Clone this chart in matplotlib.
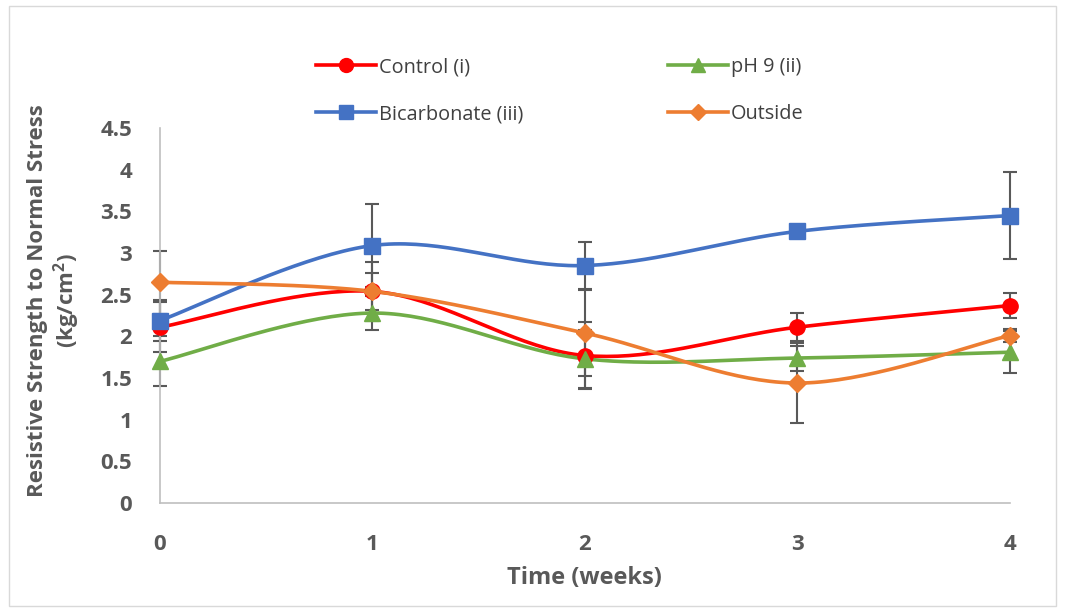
import numpy as np
import matplotlib.pyplot as plt
from matplotlib.lines import Line2D
from matplotlib.patches import Rectangle

plt.rcParams['font.family'] = ['Open Sans', 'DejaVu Sans']

# Data
weeks = [0, 1, 2, 3, 4]
control = [2.11, 2.54, 1.77, 2.11, 2.37]
control_err = [0.30, 0.22, 0.40, 0.17, 0.15]
ph9 = [1.70, 2.28, 1.73, 1.74, 1.81]
ph9_err = [0.30, 0.20, 0.35, 0.15, 0.25]
bicarb = [2.19, 3.09, 2.85, 3.26, 3.45]
bicarb_err = [0.25, 0.50, 0.28, 0.08, 0.52]
outside = [2.65, 2.54, 2.04, 1.44, 2.01]
outside_err = [0.38, 0.35, 0.52, 0.48, 0.08]

labels = ['Control (i)', 'pH 9 (ii)', 'Bicarbonate (iii)', 'Outside']
colors = ['#FF0000', '#70AD47', '#4472C4', '#ED7D31']
markers = ['o', '^', 's', 'D']
msizes = [11, 11, 11, 9]


def smooth(x, y, n=40):
    # Excel-style smoothed line (cubic Bezier through points)
    x = np.asarray(x, float)
    y = np.asarray(y, float)
    P = np.column_stack([x, y])
    out = []
    for i in range(len(P) - 1):
        p0 = P[max(i - 1, 0)]
        p1 = P[i]
        p2 = P[i + 1]
        p3 = P[min(i + 2, len(P) - 1)]
        c1 = p1 + (p2 - p0) / 6
        c2 = p2 - (p3 - p1) / 6
        t = np.linspace(0, 1, n)[:, None]
        seg = ((1 - t) ** 3) * p1 + 3 * ((1 - t) ** 2) * t * c1 + 3 * (1 - t) * t ** 2 * c2 + t ** 3 * p2
        out.append(seg)
    s = np.vstack(out)
    return s[:, 0], s[:, 1]


fig = plt.figure(figsize=(10.65, 6.13), dpi=100)
fig.patches.append(Rectangle((0.008, 0.012), 0.984, 0.978, transform=fig.transFigure,
                             fill=False, edgecolor='#D9D9D9', linewidth=1))
ax = fig.add_axes([0.1502, 0.1794, 0.798, 0.6117])

series = [control, ph9, bicarb, outside]
errs = [control_err, ph9_err, bicarb_err, outside_err]

for ys, es in zip(series, errs):
    ax.errorbar(weeks, ys, yerr=es, fmt='none', ecolor='#595959', elinewidth=1.5,
                capsize=5, capthick=1.5, zorder=2)

handles = []
for ys, c, m, ms, lab in zip(series, colors, markers, msizes, labels):
    sx, sy = smooth(weeks, ys)
    ax.plot(sx, sy, color=c, lw=2.6, zorder=3)
    ax.plot(weeks, ys, linestyle='none', marker=m, color=c, markersize=ms, zorder=4)
    handles.append(Line2D([0], [0], color=c, lw=2.6, marker=m, markersize=ms - 1, label=lab))

ax.set_xlim(0, 4)
ax.set_ylim(0, 4.5)
ax.set_xticks(weeks)
ax.set_yticks(np.arange(0, 4.51, 0.5))
ax.set_yticklabels(['0', '0.5', '1', '1.5', '2', '2.5', '3', '3.5', '4', '4.5'])
ax.tick_params(axis='y', length=0, labelsize=16, labelcolor='#595959', pad=20)
ax.tick_params(axis='x', length=0, labelsize=16, labelcolor='#595959', pad=22)
for lab in ax.get_xticklabels() + ax.get_yticklabels():
    lab.set_fontweight('bold')
for sp in ['top', 'right']:
    ax.spines[sp].set_visible(False)
for sp in ['left', 'bottom']:
    ax.spines[sp].set_color('#BFBFBF')
    ax.spines[sp].set_linewidth(1.2)
for art in ax.lines + ax.collections:
    art.set_clip_on(False)

ax.set_xlabel('Time (weeks)', fontsize=17, fontweight='bold', color='#595959', labelpad=8)
ax.set_ylabel('Resistive Strength to Normal Stress\n(kg/cm$^\\mathregular{2}$)', fontsize=16,
              fontweight='bold', color='#595959', linespacing=1.15)
ax.yaxis.set_label_coords(-0.092, 0.54)

order = [handles[0], handles[2], handles[1], handles[3]]
fig.legend(handles=order, labels=[h.get_label() for h in order], ncol=2,
           loc='center left', bbox_to_anchor=(0.280, 0.852), frameon=False,
           fontsize=14.3, labelcolor='#404040', handlelength=3.0, handletextpad=0.15,
           columnspacing=7.3, labelspacing=1.35)

fig.savefig('out.png', dpi=100)
